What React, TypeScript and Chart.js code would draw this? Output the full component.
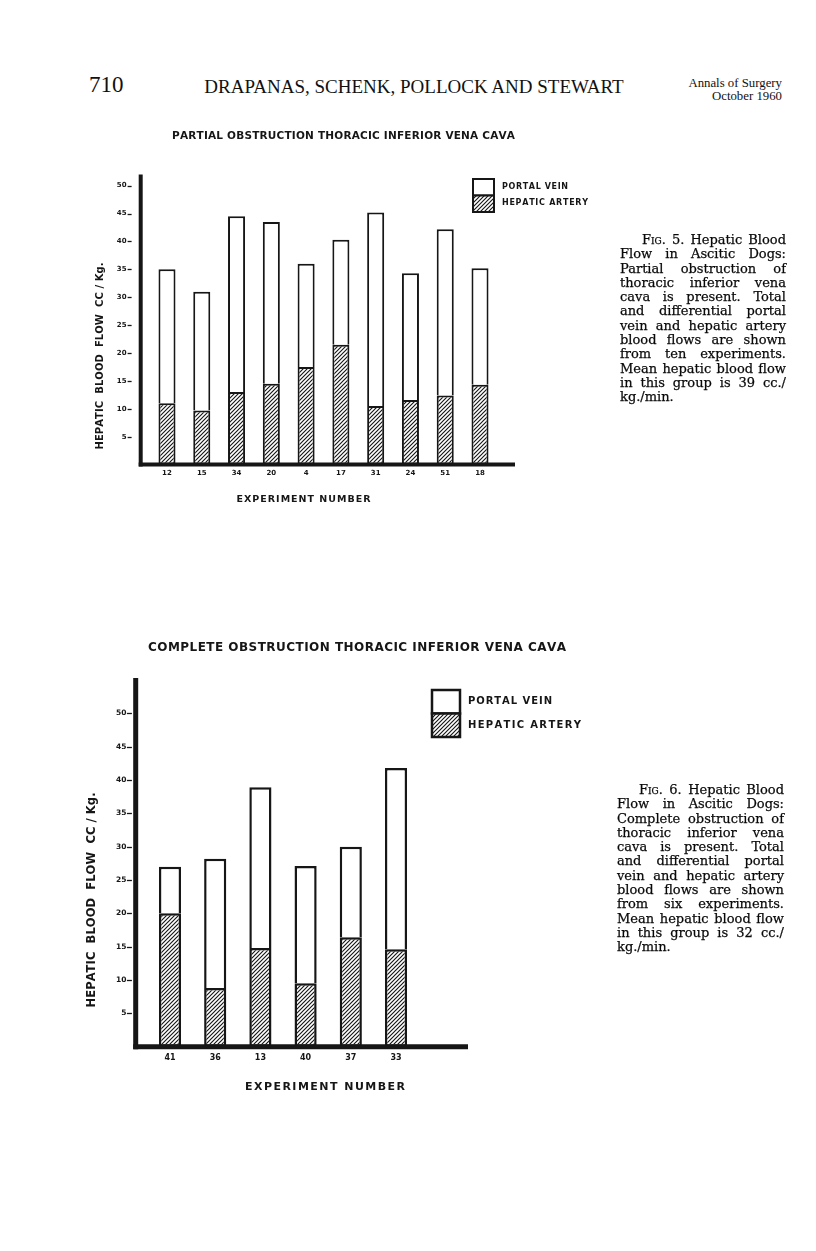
import React, { useEffect, useRef } from 'react';
import { Chart, registerables } from 'chart.js';

Chart.register(...registerables);

// ---------- DATA ----------
const partialExperiments = ['12', '15', '34', '20', '4', '17', '31', '24', '51', '18'];
const partialArtery = [11, 9.7, 13, 14.5, 17.5, 21.5, 10.5, 11.6, 12.4, 14.3];
const partialPortal = [24, 21.3, 31.5, 29, 18.5, 18.8, 34.7, 22.7, 29.8, 20.9];

const completeExperiments = ['41', '36', '13', '40', '37', '33'];
const completeArtery = [20, 8.8, 14.8, 9.5, 16.4, 14.6];
const completePortal = [7, 19.4, 24.1, 17.6, 13.6, 27.2];

const yTickValues = [5, 10, 15, 20, 25, 30, 35, 40, 45, 50];

const seriesLabels = ['HEPATIC ARTERY', 'PORTAL VEIN'];

const fig5Lines = [
  'Hepatic Blood',
  'Flow in Ascitic Dogs:',
  'Partial obstruction of',
  'thoracic inferior vena',
  'cava is present. Total',
  'and differential portal',
  'vein and hepatic artery',
  'blood flows are shown',
  'from ten experiments.',
  'Mean hepatic blood flow',
  'in this group is 39 cc./',
  'kg./min.',
];
const fig6Lines = [
  'Hepatic Blood',
  'Flow in Ascitic Dogs:',
  'Complete obstruction of',
  'thoracic inferior vena',
  'cava is present. Total',
  'and differential portal',
  'vein and hepatic artery',
  'blood flows are shown',
  'from six experiments.',
  'Mean hepatic blood flow',
  'in this group is 32 cc./',
  'kg./min.',
];

const INK = '#161616';
const SANS = '"DejaVu Sans"';

function makeHatch(): CanvasPattern | string {
  const c = document.createElement('canvas');
  c.width = 4;
  c.height = 4;
  const g = c.getContext('2d');
  if (!g) return '#888';
  g.fillStyle = '#fff';
  g.fillRect(0, 0, 4, 4);
  g.strokeStyle = INK;
  g.lineWidth = 1.15;
  g.beginPath();
  g.moveTo(0, 4);
  g.lineTo(4, 0);
  g.moveTo(-1, 1);
  g.lineTo(1, -1);
  g.moveTo(3, 5);
  g.lineTo(5, 3);
  g.stroke();
  return g.createPattern(c, 'repeat') || '#888';
}

function drawSpaced(ctx: CanvasRenderingContext2D, text: string, x: number, y: number, width: number, align: 'left' | 'center') {
  const chars = Array.from(text);
  const widths = chars.map((ch) => ctx.measureText(ch).width);
  const total = widths.reduce((a, b) => a + b, 0);
  const ls = chars.length > 1 ? (width - total) / (chars.length - 1) : 0;
  let cx = align === 'center' ? x - width / 2 : x;
  ctx.textAlign = 'left';
  chars.forEach((ch, i) => {
    ctx.fillText(ch, cx, y);
    cx += widths[i] + ls;
  });
}

const paperPlugin = {
  id: 'paper',
  afterDatasetsDraw(chart: any, _args: any, o: any) {
    const { ctx, chartArea } = chart;
    const y = chart.scales.y;
    const y0 = y.getPixelForValue(0);
    const yTop = y.getPixelForValue(y.max) - o.axisTopExtra;
    const axisX = chartArea.left - o.axisGap;
    ctx.save();
    ctx.strokeStyle = INK;
    ctx.fillStyle = INK;
    ctx.lineCap = 'butt';
    // axes
    ctx.lineWidth = o.axisWidth;
    ctx.beginPath();
    ctx.moveTo(axisX, yTop);
    ctx.lineTo(axisX, y0 + o.axisWidth / 2);
    ctx.stroke();
    ctx.beginPath();
    ctx.moveTo(axisX - o.axisWidth / 2, y0);
    ctx.lineTo(chartArea.right + o.axisExtend, y0);
    ctx.stroke();
    // tick dashes
    ctx.lineWidth = 1.3;
    y.ticks.forEach((t: any) => {
      const py = Math.round(y.getPixelForValue(t.value)) + 0.5;
      ctx.beginPath();
      ctx.moveTo(chartArea.left + o.dashFrom, py);
      ctx.lineTo(chartArea.left + o.dashTo, py);
      ctx.stroke();
    });
    ctx.textBaseline = 'middle';
    // chart title
    ctx.font = `bold ${o.title.size}px ${SANS}`;
    drawSpaced(ctx, o.title.text, o.title.x, o.title.y, o.title.width, 'center');
    // x title
    ctx.font = `bold ${o.xTitle.size}px ${SANS}`;
    drawSpaced(ctx, o.xTitle.text, o.xTitle.x, o.xTitle.y, o.xTitle.width, 'center');
    // y title
    ctx.save();
    ctx.translate(o.yTitle.x, o.yTitle.y);
    ctx.rotate(-Math.PI / 2);
    ctx.font = `bold ${o.yTitle.size}px ${SANS}`;
    drawSpaced(ctx, o.yTitle.text, 0, 0, o.yTitle.width, 'center');
    ctx.restore();
    // legend: portal (white) above artery (hatched)
    const L = o.legend;
    const ds = chart.data.datasets;
    const boxes = [
      { d: ds[1], top: L.top, ty: L.top + L.boxH / 2, w: L.w1 },
      { d: ds[0], top: L.top + L.boxH, ty: L.top + L.boxH * 1.5 + L.textShift, w: L.w2 },
    ];
    boxes.forEach((b) => {
      ctx.fillStyle = b.d.backgroundColor;
      ctx.fillRect(L.x, b.top, L.boxW, L.boxH);
      ctx.lineWidth = L.border;
      ctx.strokeStyle = INK;
      ctx.strokeRect(L.x, b.top, L.boxW, L.boxH);
      ctx.fillStyle = INK;
      ctx.font = `bold ${L.size}px ${SANS}`;
      drawSpaced(ctx, b.d.label, L.x + L.boxW + L.textGap, b.ty, b.w, 'left');
    });
    ctx.restore();
  },
};

type PanelSpec = {
  left: number;
  top: number;
  w: number;
  h: number;
  labels: string[];
  artery: number[];
  portal: number[];
  yMax: number;
  areaLeft: number;
  padRight: number;
  padTop: number;
  padBottom: number;
  xScaleH: number;
  barPct: number;
  borderW: number;
  tickSizeX: number;
  tickSizeY: number;
  xTickPad: number;
  yTickPad: number;
  paper: any;
};

function buildConfig(s: PanelSpec): any {
  const hatch = makeHatch();
  return {
    type: 'bar',
    data: {
      labels: s.labels,
      datasets: [
        {
          label: seriesLabels[0],
          data: s.artery,
          backgroundColor: hatch,
          borderColor: INK,
          borderWidth: s.borderW,
          borderSkipped: false,
          categoryPercentage: 1,
          barPercentage: s.barPct,
          stack: 'flow',
        },
        {
          label: seriesLabels[1],
          data: s.portal,
          backgroundColor: '#ffffff',
          borderColor: INK,
          borderWidth: s.borderW,
          borderSkipped: 'bottom',
          categoryPercentage: 1,
          barPercentage: s.barPct,
          stack: 'flow',
        },
      ],
    },
    plugins: [paperPlugin],
    options: {
      responsive: false,
      maintainAspectRatio: false,
      animation: false,
      devicePixelRatio: 1,
      events: [],
      layout: { padding: { left: 0, right: s.padRight, top: s.padTop, bottom: s.padBottom } },
      scales: {
        x: {
          stacked: true,
          grid: { display: false, drawTicks: false },
          border: { display: false },
          ticks: {
            color: INK,
            padding: s.xTickPad,
            font: { family: 'DejaVu Sans', weight: 'bold', size: s.tickSizeX },
          },
          afterFit: (sc: any) => {
            sc.height = s.xScaleH;
          },
        },
        y: {
          stacked: true,
          min: 0,
          max: s.yMax,
          grid: { display: false, drawTicks: false },
          border: { display: false },
          afterBuildTicks: (sc: any) => {
            sc.ticks = yTickValues.map((v) => ({ value: v }));
          },
          ticks: {
            color: INK,
            padding: s.yTickPad,
            font: { family: 'DejaVu Sans', weight: 'bold', size: s.tickSizeY },
          },
          afterFit: (sc: any) => {
            sc.width = s.areaLeft;
          },
        },
      },
      plugins: {
        legend: { display: false },
        tooltip: { enabled: false },
        title: { display: false },
        paper: s.paper,
      },
    },
  };
}

const topSpec: PanelSpec = {
  left: 60,
  top: 120,
  w: 560,
  h: 400,
  labels: partialExperiments,
  artery: partialArtery,
  portal: partialPortal,
  yMax: 52,
  areaLeft: 89.6,
  padRight: 122.6,
  padTop: 54.5,
  padBottom: 35.4,
  xScaleH: 20,
  barPct: 0.49,
  borderW: 2,
  tickSizeX: 7,
  tickSizeY: 7,
  xTickPad: 4.5,
  yTickPad: 23,
  paper: {
    axisGap: 8.9,
    axisWidth: 4,
    axisTopExtra: 0,
    axisExtend: 17.6,
    dashFrom: -22,
    dashTo: -18,
    title: { text: 'PARTIAL OBSTRUCTION THORACIC INFERIOR VENA CAVA', x: 283.5, y: 16, width: 343, size: 10.5 },
    xTitle: { text: 'EXPERIMENT NUMBER', x: 243.5, y: 379.5, width: 134, size: 9.5 },
    yTitle: { text: 'HEPATIC  BLOOD  FLOW  CC / Kg.', x: 40, y: 236, width: 187, size: 10 },
    legend: { x: 413, top: 59, boxW: 21, boxH: 16.5, border: 2, size: 8, textGap: 8, w1: 66, w2: 86, textShift: -1 },
  },
};

const bottomSpec: PanelSpec = {
  left: 60,
  top: 630,
  w: 560,
  h: 480,
  labels: completeExperiments,
  artery: completeArtery,
  portal: completePortal,
  yMax: 55,
  areaLeft: 87.4,
  padRight: 201.4,
  padTop: 50,
  padBottom: 43.3,
  xScaleH: 20,
  barPct: 0.49,
  borderW: 2.5,
  tickSizeX: 8,
  tickSizeY: 7.5,
  xTickPad: 6.5,
  yTickPad: 21,
  paper: {
    axisGap: 11.7,
    axisWidth: 5,
    axisTopExtra: 2,
    axisExtend: 49.4,
    dashFrom: -20.5,
    dashTo: -15.5,
    title: { text: 'COMPLETE OBSTRUCTION THORACIC INFERIOR VENA CAVA', x: 297, y: 18, width: 418, size: 12 },
    xTitle: { text: 'EXPERIMENT NUMBER', x: 265, y: 456.7, width: 160, size: 11 },
    yTitle: { text: 'HEPATIC  BLOOD  FLOW  CC / Kg.', x: 32, y: 270, width: 215, size: 11.5 },
    legend: { x: 372, top: 60, boxW: 28, boxH: 23.5, border: 2.5, size: 10, textGap: 8, w1: 84, w2: 113, textShift: 0 },
  },
};

function BarPanel({ spec }: { spec: PanelSpec }) {
  const ref = useRef<HTMLCanvasElement | null>(null);
  useEffect(() => {
    if (!ref.current) return;
    const chart = new Chart(ref.current, buildConfig(spec));
    return () => chart.destroy();
  }, [spec]);
  return (
    <canvas
      ref={ref}
      width={spec.w}
      height={spec.h}
      style={{ position: 'absolute', left: spec.left, top: spec.top, width: spec.w, height: spec.h }}
    />
  );
}

function Caption({ fig, lines, left, top, width }: { fig: string; lines: string[]; left: number; top: number; width: number }) {
  const base: React.CSSProperties = {
    fontFamily: '"DejaVu Serif", serif',
    fontSize: 13,
    lineHeight: '14.3px',
    color: '#0a0a0a',
    WebkitTextStroke: '0.25px #0a0a0a',
  } as React.CSSProperties;
  return (
    <div style={{ position: 'absolute', left, top, width, zIndex: 2 }}>
      {lines.map((ln, i) => {
        const last = i === lines.length - 1;
        return (
          <div
            key={i}
            style={{
              ...base,
              whiteSpace: 'normal',
              textAlign: last ? 'left' : 'justify',
              textAlignLast: last ? 'left' : 'justify',
              paddingLeft: i === 0 ? 22 : 0,
            } as React.CSSProperties}
          >
            {i === 0 ? (
              <>
                <span style={{ fontVariant: 'small-caps' }}>Fig.</span> {fig}. {ln}
              </>
            ) : (
              ln
            )}
          </div>
        );
      })}
    </div>
  );
}

export default function App() {
  return (
    <div
      style={{
        position: 'absolute',
        left: 0,
        top: 0,
        width: 816,
        height: 1251,
        background: '#ffffff',
        overflow: 'hidden',
        color: '#111',
      }}
    >
      <div style={{ position: 'absolute', left: 89, top: 73, fontFamily: '"Liberation Serif", serif', fontSize: 23, lineHeight: '23px' }}>
        710
      </div>
      <div
        style={{
          position: 'absolute',
          left: 164,
          top: 77,
          width: 500,
          textAlign: 'center',
          fontFamily: '"Liberation Serif", serif',
          fontSize: 19,
          lineHeight: '19px',
          whiteSpace: 'nowrap',
        }}
      >
        DRAPANAS, SCHENK, POLLOCK AND STEWART
      </div>
      <div
        style={{
          position: 'absolute',
          right: 816 - 782,
          top: 77,
          textAlign: 'right',
          fontFamily: '"Liberation Serif", serif',
          fontSize: 12.8,
          lineHeight: '13px',
          whiteSpace: 'nowrap',
        }}
      >
        <div>Annals of Surgery</div>
        <div>October 1960</div>
      </div>

      <BarPanel spec={topSpec} />
      <BarPanel spec={bottomSpec} />

      <Caption fig="5" lines={fig5Lines} left={620} top={233} width={166} />
      <Caption fig="6" lines={fig6Lines} left={617} top={783} width={167} />
    </div>
  );
}
